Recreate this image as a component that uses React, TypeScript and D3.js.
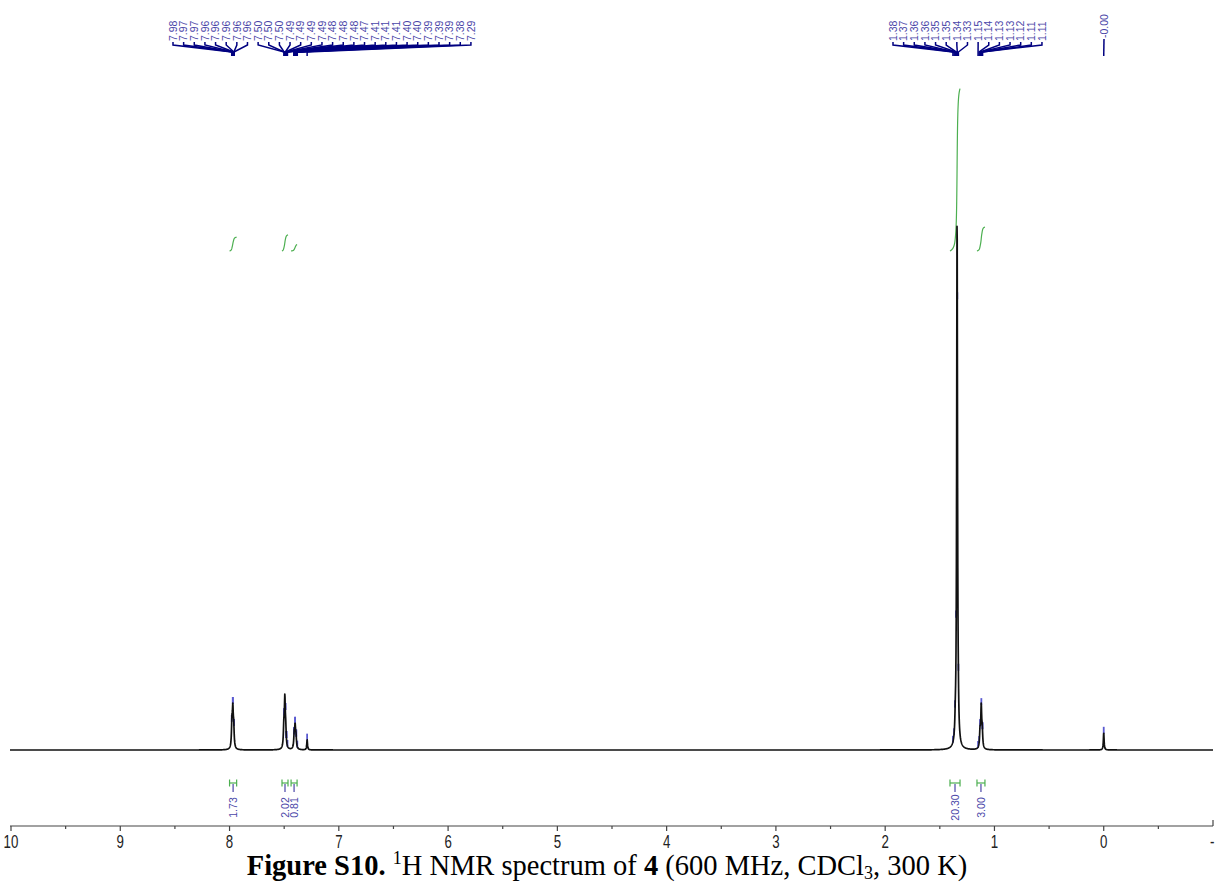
import React from 'react';
import * as d3 from 'd3';

const W = 1215;
const H = 883;

// Axis ticks (ppm)
const majorTicks = [10, 9, 8, 7, 6, 5, 4, 3, 2, 1, 0, -1];
const minorTicks = [9.5, 8.5, 7.5, 6.5, 5.5, 4.5, 3.5, 2.5, 1.5, 0.5, -0.5];

// Spectral lines: position (ppm), intensity (tallest = ~100), half-width (ppm)
const linePpm = [7.978, 7.970, 7.962, 7.503, 7.494, 7.486, 7.408, 7.400, 7.392, 7.290, 1.358, 1.342, 1.332, 1.132, 1.121, 1.112, 0.000];
const lineInt = [4.5, 6.5, 3.5, 3.7, 8.7, 3.0, 2.5, 3.75, 2.0, 1.9, 2.5, 99.5, 3.0, 3.0, 7.5, 3.0, 3.2];
const lineHW = [0.005, 0.005, 0.005, 0.005, 0.005, 0.005, 0.005, 0.005, 0.005, 0.004, 0.005, 0.0045, 0.005, 0.005, 0.005, 0.005, 0.004];

// Peak labels (top)
const peakLabelsLeft = ['7.98', '7.97', '7.97', '7.96', '7.96', '7.96', '7.96', '7.96', '7.50', '7.50', '7.50', '7.49', '7.49', '7.49', '7.49', '7.48', '7.48', '7.48', '7.47', '7.41', '7.41', '7.41', '7.40', '7.40', '7.39', '7.39', '7.39', '7.38', '7.29'];
const peakLabelsRight = ['1.38', '1.37', '1.36', '1.36', '1.35', '1.35', '1.34', '1.33', '1.15', '1.14', '1.13', '1.13', '1.12', '1.11', '1.11'];
const peakLabelsTms = ['-0.00'];

// Integrals
const intFrom = [8.0, 7.52, 7.437, 1.407, 1.16];
const intTo = [7.935, 7.465, 7.382, 1.315, 1.087];
const intValue = [1.73, 2.02, 0.81, 20.3, 3.0];
const intLabel = ['1.73', '2.02', '0.81', '20.30', '3.00'];

const xScale = d3.scaleLinear().domain([10, -1]).range([11, 1213]);
const yScale = d3.scaleLinear().domain([0, 100]).range([750, 213]);

const spec = (p: number) => {
  let s = 0;
  for (let i = 0; i < linePpm.length; i++) {
    const d = p - linePpm[i];
    const g = lineHW[i];
    s += (lineInt[i] * g * g) / (d * d + g * g);
  }
  return s;
};

const LABEL_COLOR = '#4a46a8';
const LINK_COLOR = '#000080';
const MARK_COLOR = '#5a5ad0';
const INT_COLOR = '#4caf50';

export default function App() {
  const pts: [number, number][] = d3.range(10, 1213.01, 0.2).map((px) => [px, yScale(spec(xScale.invert(px)))]);
  const specPath = d3.line()(pts) || '';

  const groups = [
    { labels: peakLabelsLeft, start: 173, step: 10.64 },
    { labels: peakLabelsRight, start: 893, step: 10.64 },
    { labels: peakLabelsTms, start: 1104, step: 10.64 },
  ];

  const labelEls: React.ReactNode[] = [];
  groups.forEach((g, gi) => {
    g.labels.forEach((lab, i) => {
      const lx = g.start + i * g.step;
      const ppm = Math.abs(parseFloat(lab));
      const px = xScale(ppm);
      const py = yScale(spec(ppm));
      const single = g.labels.length === 1;
      labelEls.push(
        <g key={`pl-${gi}-${i}`}>
          <text
            transform={`translate(${lx},${single ? 38 : 41}) rotate(-90)`}
            dy="0.35em"
            fontSize={10.5}
            fontFamily="Liberation Sans, Arial, sans-serif"
            fill={LABEL_COLOR}
          >
            {lab}
          </text>
          <path
            d={single ? `M${lx},39 L${px},56` : `M${lx},42 L${lx},45 L${px},52 L${px},56`}
            fill="none"
            stroke={LINK_COLOR}
            strokeWidth={1.5}
          />
          <line x1={px} x2={px} y1={py - 6} y2={py + 1} stroke={MARK_COLOR} strokeWidth={1.8} />
        </g>
      );
    });
  });

  const intEls = intValue.map((v, i) => {
    const n = 200;
    const ps = d3.range(n + 1).map((k) => intFrom[i] - ((intFrom[i] - intTo[i]) * k) / n);
    const vals = ps.map(spec);
    const cum: number[] = [0];
    for (let k = 1; k <= n; k++) cum.push(cum[k - 1] + (vals[k] + vals[k - 1]) / 2);
    const tot = cum[n];
    const ipts: [number, number][] = ps.map((p, k) => [xScale(p), 251 - v * 8 * (cum[k] / tot)]);
    const x1 = xScale(intFrom[i]);
    const x2 = xScale(intTo[i]);
    const cx = (x1 + x2) / 2;
    return (
      <g key={`int-${i}`}>
        <path d={d3.line()(ipts) || ''} fill="none" stroke={INT_COLOR} strokeWidth={1.2} />
        <line x1={x1} x2={x2} y1={783} y2={783} stroke={INT_COLOR} strokeWidth={1.2} />
        <line x1={x1} x2={x1} y1={779.5} y2={786.5} stroke={INT_COLOR} strokeWidth={1.2} />
        <line x1={x2} x2={x2} y1={779.5} y2={786.5} stroke={INT_COLOR} strokeWidth={1.2} />
        <line x1={cx} x2={cx} y1={784} y2={792} stroke={LABEL_COLOR} strokeWidth={1.2} />
        <text
          transform={`translate(${cx},807.5) rotate(-90)`}
          dy="0.35em"
          textAnchor="middle"
          fontSize={10.5}
          fontFamily="Liberation Sans, Arial, sans-serif"
          fill={LABEL_COLOR}
        >
          {intLabel[i]}
        </text>
      </g>
    );
  });

  return (
    <svg width={W} height={H} style={{ position: 'absolute', left: 0, top: 0, background: '#fff' }}>
      <rect x={0} y={0} width={W} height={H} fill="#fff" />
      {labelEls}
      {intEls}
      <path d={specPath} fill="none" stroke="#111" strokeWidth={1.7} strokeLinejoin="round" />
      {/* axis */}
      <line x1={10} x2={1213} y1={826} y2={826} stroke="#444" strokeWidth={1.2} />
      {majorTicks.map((t) => (
        <line key={`mt-${t}`} x1={xScale(t)} x2={xScale(t)} y1={826} y2={t === -1 ? 820 : 831} stroke="#444" strokeWidth={1.2} />
      ))}
      {minorTicks.map((t) => (
        <line key={`nt-${t}`} x1={xScale(t)} x2={xScale(t)} y1={826} y2={829} stroke="#444" strokeWidth={1.2} />
      ))}
      {majorTicks.map((t) => (
        <text
          key={`tl-${t}`}
          transform={`translate(${xScale(t) + (t === -1 ? 3 : 0)},848) scale(0.7,1)`}
          textAnchor="middle"
          fontSize={19}
          fontFamily="Liberation Sans, Arial, sans-serif"
          fill="#222"
        >
          {t}
        </text>
      ))}
      {/* caption */}
      <text x={607} y={875} textAnchor="middle" fontSize={28.5} fontFamily="Liberation Serif, Times New Roman, serif" fill="#000">
        <tspan fontWeight="bold">Figure S10.</tspan>
        <tspan> </tspan>
        <tspan fontSize={18} dy={-11}>1</tspan>
        <tspan dy={11}>H NMR spectrum of </tspan>
        <tspan fontWeight="bold">4</tspan>
        <tspan> (600 MHz, CDCl</tspan>
        <tspan fontSize={18} dy={4}>3</tspan>
        <tspan dy={-4}>, 300 K)</tspan>
      </text>
    </svg>
  );
}
